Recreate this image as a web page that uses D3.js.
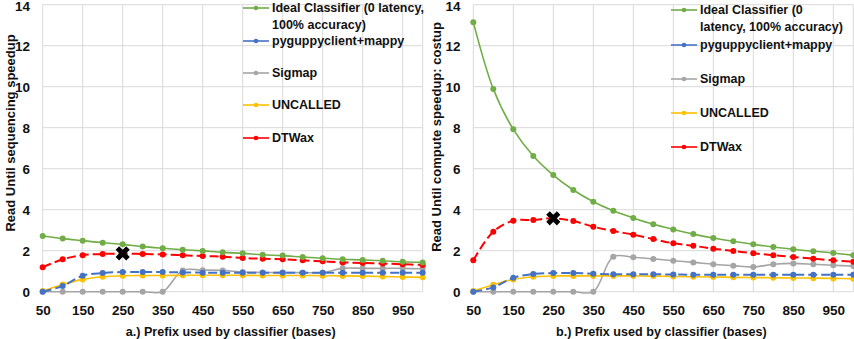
<!DOCTYPE html>
<meta charset="utf-8">
<style>
  body { margin: 0; background: #fff; }
  svg text { font-family: "Liberation Sans", Arial, sans-serif; font-weight: bold; fill: #111; }
</style>
<body>
<script src="https://cdn.jsdelivr.net/npm/d3@7"></script>
<script>

// prefix length (bases) on the x axis
var prefixes = [50, 100, 150, 200, 250, 300, 350, 400, 450, 500,
                550, 600, 650, 700, 750, 800, 850, 900, 950, 1000];
var xTickLabels = [50, 150, 250, 350, 450, 550, 650, 750, 850, 950];
var yTicks = [0, 2, 4, 6, 8, 10, 12, 14];

var seriesNames = ["Ideal Classifier", "pyguppyclient+mappy", "Sigmap", "UNCALLED", "DTWax"];

// a.) sequencing speedup
var idealSeq    = [2.72, 2.59, 2.49, 2.39, 2.31, 2.20, 2.12, 2.05, 1.99, 1.92, 1.87, 1.80, 1.76, 1.69, 1.63, 1.58, 1.55, 1.51, 1.46, 1.43];
var guppySeq    = [0.00, 0.28, 0.78, 0.91, 0.96, 0.96, 0.96, 0.94, 0.93, 0.93, 0.93, 0.93, 0.93, 0.93, 0.93, 0.93, 0.93, 0.93, 0.93, 0.93];
var sigmapSeq   = [0, 0, 0, 0, 0, 0, 0, 1.04, 1.05, 1.04, 0.96, 0.94, 0.94, 0.93, 0.93, 1.14, 1.14, 1.14, 1.14, 1.12];
var uncalledSeq = [0.03, 0.35, 0.60, 0.73, 0.78, 0.79, 0.79, 0.80, 0.80, 0.80, 0.80, 0.79, 0.79, 0.79, 0.78, 0.77, 0.76, 0.74, 0.72, 0.70];
var dtwaxSeq    = [1.19, 1.58, 1.78, 1.84, 1.86, 1.84, 1.82, 1.78, 1.74, 1.71, 1.64, 1.61, 1.58, 1.53, 1.48, 1.43, 1.40, 1.37, 1.34, 1.30];

// b.) compute speedup : costup
var idealCost    = [13.15, 9.89, 7.92, 6.62, 5.69, 4.96, 4.39, 3.95, 3.60, 3.29, 3.04, 2.81, 2.62, 2.46, 2.31, 2.18, 2.07, 1.97, 1.89, 1.78];
var guppyCost    = [0.00, 0.21, 0.68, 0.86, 0.91, 0.91, 0.88, 0.85, 0.85, 0.85, 0.84, 0.83, 0.83, 0.83, 0.83, 0.83, 0.83, 0.83, 0.83, 0.83];
var sigmapCost   = [0, 0, 0, 0, 0, 0, 0, 1.71, 1.68, 1.60, 1.51, 1.43, 1.34, 1.27, 1.20, 1.34, 1.38, 1.34, 1.29, 1.25];
var uncalledCost = [0.03, 0.34, 0.60, 0.73, 0.77, 0.77, 0.77, 0.77, 0.77, 0.76, 0.74, 0.73, 0.72, 0.70, 0.69, 0.68, 0.67, 0.66, 0.65, 0.63];
var dtwaxCost    = [1.53, 2.93, 3.46, 3.50, 3.58, 3.45, 3.17, 2.96, 2.78, 2.57, 2.36, 2.24, 2.10, 1.99, 1.87, 1.78, 1.69, 1.61, 1.53, 1.46];

// chosen operating point (black cross)
var pickPrefix = 250;
var pickSeq = 1.87;
var pickCost = 3.58;

var colors = ["#70AD47", "#4472C4", "#A5A5A5", "#FFC000", "#FF0000"];
var dashed = [false, true, false, false, true];

var width = 854, height = 339;

var svg = d3.select("body").append("svg")
  .attr("width", width)
  .attr("height", height);

function drawPanel(p) {
  var x = d3.scalePoint().domain(prefixes).range([p.x0, p.x1]);
  var y = d3.scaleLinear().domain([0, 14]).range([291.7, 4.7]);
  var g = svg.append("g");

  // gridlines
  g.selectAll(".hgrid").data(yTicks).enter().append("line")
    .attr("x1", p.x0).attr("x2", p.x1)
    .attr("y1", d => y(d)).attr("y2", d => y(d))
    .attr("stroke", "#D9D9D9").attr("stroke-width", 1);
  g.selectAll(".vgrid").data(xTickLabels.concat([1000])).enter().append("line")
    .attr("x1", d => x(d)).attr("x2", d => x(d))
    .attr("y1", y(0)).attr("y2", y(14))
    .attr("stroke", "#D9D9D9").attr("stroke-width", 1);

  // axes
  var ya = g.append("g").attr("transform", "translate(" + p.x0 + ",0)")
    .call(d3.axisLeft(y).tickValues(yTicks).tickSize(0).tickPadding(12.7));
  ya.select(".domain").remove();
  ya.selectAll("text").style("font-size", "13.5px").style("font-family", null)
    .attr("dy", d => d === 14 ? "0.42em" : "0.34em");

  var xa = g.append("g").attr("transform", "translate(0," + y(0) + ")")
    .call(d3.axisBottom(x).tickValues(xTickLabels).tickSize(0).tickPadding(14));
  xa.select(".domain").remove();
  xa.selectAll("text").style("font-size", "13.5px").style("font-family", null);

  // axis titles
  g.append("text")
    .attr("transform", "translate(" + p.titleX + "," + p.titleY + ") rotate(-90)")
    .attr("text-anchor", "middle").attr("dy", "0.35em")
    .style("font-size", "13px")
    .text(p.yTitle);
  g.append("text")
    .attr("x", (p.x0 + p.x1) / 2 - 2).attr("y", 336)
    .attr("text-anchor", "middle")
    .style("font-size", "12.6px")
    .text(p.xTitle);

  // series, back to front
  var line = d3.line()
    .x((d, i) => x(prefixes[i]))
    .y(d => y(d))
    .curve(d3.curveCatmullRom.alpha(0.5));

  [2, 3, 1, 4, 0].forEach(function (k) {
    var vals = p.series[k];
    g.append("path")
      .attr("d", line(vals))
      .attr("fill", "none")
      .attr("stroke", colors[k])
      .attr("stroke-width", dashed[k] ? 2 : 1.6)
      .attr("stroke-dasharray", dashed[k] ? "9,4" : null);
    g.selectAll(null).data(vals).enter().append("circle")
      .attr("cx", (d, i) => x(prefixes[i]))
      .attr("cy", d => y(d))
      .attr("r", 3)
      .attr("fill", colors[k]);
  });

  // black cross on the chosen prefix
  g.append("path")
    .attr("d", d3.symbol(d3.symbolCross, 125)())
    .attr("transform", "translate(" + x(pickPrefix) + "," + y(p.pick) + ") rotate(45)")
    .attr("fill", "#000");

  // legend
  var lg = g.append("g");
  p.legendRows.forEach(function (row, k) {
    lg.append("line")
      .attr("x1", p.legX).attr("x2", p.legX + 26)
      .attr("y1", row).attr("y2", row)
      .attr("stroke", colors[k]).attr("stroke-width", 1.6);
    lg.append("circle")
      .attr("cx", p.legX + 13).attr("cy", row).attr("r", 2.3)
      .attr("fill", colors[k]);
    var lines = k === 0 ? p.idealLabel : [seriesNames[k]];
    lines.forEach(function (t, j) {
      lg.append("text")
        .attr("x", p.legX + 29).attr("y", row + j * 17)
        .attr("dy", "0.35em")
        .style("font-size", "12.5px")
        .text(t);
    });
  });
}

drawPanel({
  x0: 42.7, x1: 422.7,
  series: [idealSeq, guppySeq, sigmapSeq, uncalledSeq, dtwaxSeq],
  pick: pickSeq,
  yTitle: "Read Until sequencing speedup",
  xTitle: "a.) Prefix used by classifier  (bases)",
  titleX: 10, titleY: 133,
  legX: 243,
  legendRows: [8, 41, 73, 105, 138],
  idealLabel: ["Ideal Classifier (0 latency,", "100% accuracy)"]
});

drawPanel({
  x0: 473.3, x1: 853.3,
  series: [idealCost, guppyCost, sigmapCost, uncalledCost, dtwaxCost],
  pick: pickCost,
  yTitle: "Read Until compute speedup: costup",
  xTitle: "b.) Prefix used by classifier  (bases)",
  titleX: 436, titleY: 137,
  legX: 671,
  legendRows: [10, 45, 79, 113, 147],
  idealLabel: ["Ideal Classifier (0", "latency, 100% accuracy)"]
});

</script>
</body>
